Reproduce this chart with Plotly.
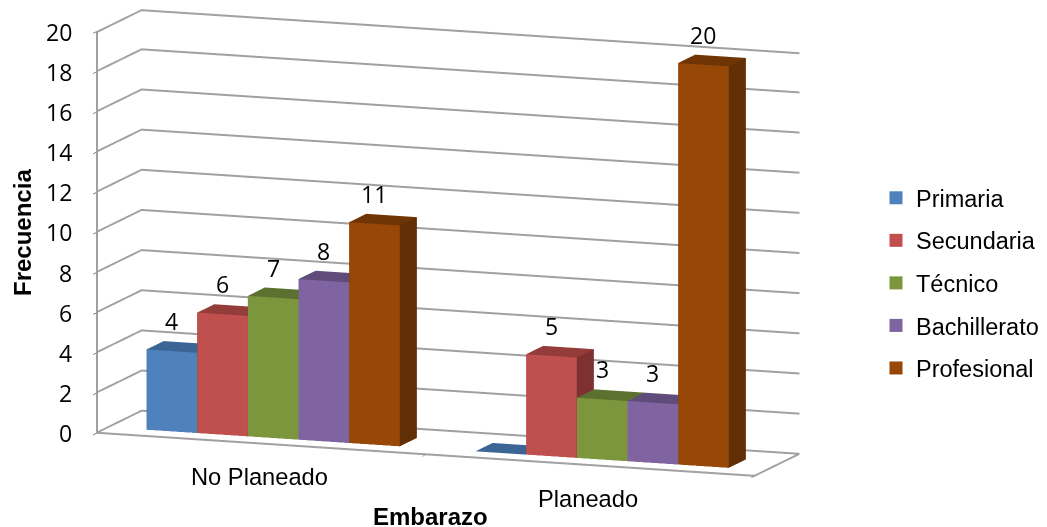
import plotly.graph_objects as go

# Chart data
categories = ["No Planeado", "Planeado"]
series_names = ["Primaria", "Secundaria", "Técnico", "Bachillerato", "Profesional"]
primaria = [4, 0]
secundaria = [6, 5]
tecnico = [7, 3]
bachillerato = [8, 3]
profesional = [11, 20]
series_values = [primaria, secundaria, tecnico, bachillerato, profesional]
z_ticks = list(range(0, 21, 2))

# Face colours per series: front, top, side
front_colors = ["#4F81BD", "#C0504D", "#7B963C", "#8064A2", "#974706"]
top_colors = ["#3A6594", "#933C3A", "#5C7030", "#604C7A", "#703505"]
side_colors = ["#335980", "#7E3130", "#505F28", "#53416A", "#622E04"]

BAR_WIDTH = 0.154
GROUP_WIDTH = BAR_WIDTH * len(series_names)
DEPTH_FRONT, DEPTH_BACK = 0.27, 0.65
TICK_FONT = "Open Sans"
TEXT_FONT = "Liberation Sans"
GRID = "#A0A0A0"
LINE_OFFSET = 0.05  # second pass of each line, to thicken it by about a pixel


def bar_mesh(x0, x1, height):
    """Vertices and triangles of one box standing on the floor."""
    y0, y1 = DEPTH_FRONT, DEPTH_BACK
    xs = [x0, x1, x1, x0, x0, x1, x1, x0]
    ys = [y0, y0, y1, y1, y0, y0, y1, y1]
    zs = [0, 0, 0, 0, height, height, height, height]
    tris = [
        (0, 1, 5, "front"), (0, 5, 4, "front"),
        (4, 5, 6, "top"), (4, 6, 7, "top"),
        (1, 2, 6, "side"), (1, 6, 5, "side"),
        (0, 3, 7, "side"), (0, 7, 4, "side"),
        (3, 2, 6, "side"), (3, 6, 7, "side"),
    ]
    return xs, ys, zs, tris


def wall_line(fig, xs, ys, zs):
    """A grey line on the walls or floor of the box, drawn twice for weight."""
    # The second pass stays inside the axis range, which clips anything above the top
    dz = -LINE_OFFSET if max(zs) >= z_ticks[-1] else LINE_OFFSET
    for offset in (0, dz):
        fig.add_trace(go.Scatter3d(
            x=xs, y=ys, z=[z + offset for z in zs], mode="lines",
            line=dict(color=GRID, width=2), showlegend=False, hoverinfo="skip",
        ))


fig = go.Figure()

for s, (name, values) in enumerate(zip(series_names, series_values)):
    X, Y, Z, I, J, K, colors = [], [], [], [], [], [], []
    palette = {"front": front_colors[s], "top": top_colors[s], "side": side_colors[s]}
    for c, value in enumerate(values):
        left = c + 0.5 - GROUP_WIDTH / 2 + s * BAR_WIDTH
        xs, ys, zs, tris = bar_mesh(left, left + BAR_WIDTH, value)
        base = len(X)
        X += xs
        Y += ys
        Z += zs
        for a, b, d, face in tris:
            I.append(base + a)
            J.append(base + b)
            K.append(base + d)
            colors.append(palette[face])
    fig.add_trace(go.Mesh3d(
        x=X, y=Y, z=Z, i=I, j=J, k=K, facecolor=colors, flatshading=True,
        lighting=dict(ambient=1, diffuse=0, specular=0, roughness=1, fresnel=0),
        showlegend=False, hoverinfo="skip",
    ))
    # Legend entry for the series
    fig.add_trace(go.Scatter3d(
        x=[None], y=[None], z=[None], mode="markers", name=name, legendgroup=name,
        marker=dict(symbol="square", size=13, color=front_colors[s]),
    ))

# Gridlines running along the left wall and the back wall
for tick in z_ticks:
    wall_line(fig, [0, 0, 2], [0, 1, 1], [tick, tick, tick])
# Floor front edge, floor right edge and the value axis
wall_line(fig, [0, 2, 2], [0, 0, 1], [0, 0, 0])
for dx in (0, 0.003):
    fig.add_trace(go.Scatter3d(
        x=[dx, dx], y=[0, 0], z=[0, z_ticks[-1]], mode="lines",
        line=dict(color=GRID, width=2), showlegend=False, hoverinfo="skip",
    ))

# Value labels above each bar, category labels below the floor, value-axis labels
annotations = []
for s, values in enumerate(series_values):
    for c, value in enumerate(values):
        if value > 0:
            annotations.append(dict(
                x=c + 0.5 - GROUP_WIDTH / 2 + (s + 0.5) * BAR_WIDTH, y=DEPTH_FRONT, z=value,
                text=str(value), showarrow=False, yshift=30,
                font=dict(family=TICK_FONT, size=23, color="black"),
            ))
for c, category in enumerate(categories):
    annotations.append(dict(
        x=c + 0.5, y=0, z=0, text=category, showarrow=False, yshift=-33, xshift=-2,
        font=dict(family=TEXT_FONT, size=23.7, color="black"),
    ))
for tick in z_ticks:
    annotations.append(dict(
        x=0, y=0, z=tick, text=str(tick), showarrow=False, xanchor="right", xshift=-23,
        font=dict(family=TICK_FONT, size=23, color="black"),
    ))

eye_dir = (0.338, -0.924, 0.179)
EYE_DIST = 2.0
ZOOM = 2.883

fig.update_layout(
    width=1047, height=527,
    margin=dict(l=0, r=0, t=0, b=0, autoexpand=False),
    paper_bgcolor="white",
    showlegend=True,
    legend=dict(
        x=876 / 1047, y=1 - 176 / 527, xanchor="left", yanchor="top",
        font=dict(family=TEXT_FONT, size=23.5, color="black"),
        tracegroupgap=9, bgcolor="rgba(0,0,0,0)", itemsizing="trace",
    ),
    scene=dict(
        domain=dict(x=[0, 896 / 1047], y=[41 / 527, 1]),
        aspectmode="manual",
        aspectratio=dict(x=1 * ZOOM, y=0.187 * ZOOM, z=0.5826 * ZOOM),
        camera=dict(
            projection=dict(type="orthographic"),
            up=dict(x=0, y=0, z=1),
            center=dict(x=0, y=0, z=0),
            eye=dict(x=eye_dir[0] * EYE_DIST, y=eye_dir[1] * EYE_DIST, z=eye_dir[2] * EYE_DIST),
        ),
        xaxis=dict(
            range=[0, 2], tickvals=[0, 1, 2], showticklabels=False, showgrid=False,
            showbackground=False, zeroline=False, showline=False, title="",
            ticks="outside", ticklen=6, tickcolor="#808080", tickwidth=2,
        ),
        yaxis=dict(
            range=[0, 1], showticklabels=False, showgrid=False, showbackground=False,
            zeroline=False, showline=False, ticks="", title="",
        ),
        zaxis=dict(
            range=[0, 20], tickvals=z_ticks, showgrid=False,
            showbackground=False, zeroline=False, showline=False,
            ticks="outside", ticklen=8, tickcolor="#808080", tickwidth=2, title="", showticklabels=False,
        ),
        annotations=annotations,
    ),
    annotations=[
        dict(x=430 / 1047, y=1 - 516 / 527, xref="paper", yref="paper", text="<b>Embarazo</b>",
             xanchor="center", yanchor="middle",
             showarrow=False, font=dict(family=TEXT_FONT, size=24, color="black")),
        dict(x=22 / 1047, y=1 - 233 / 527, xref="paper", yref="paper", text="<b>Frecuencia</b>",
             xanchor="center", yanchor="middle",
             textangle=-90, showarrow=False, font=dict(family=TEXT_FONT, size=24, color="black")),
    ],
)

fig.write_html("out.html")
